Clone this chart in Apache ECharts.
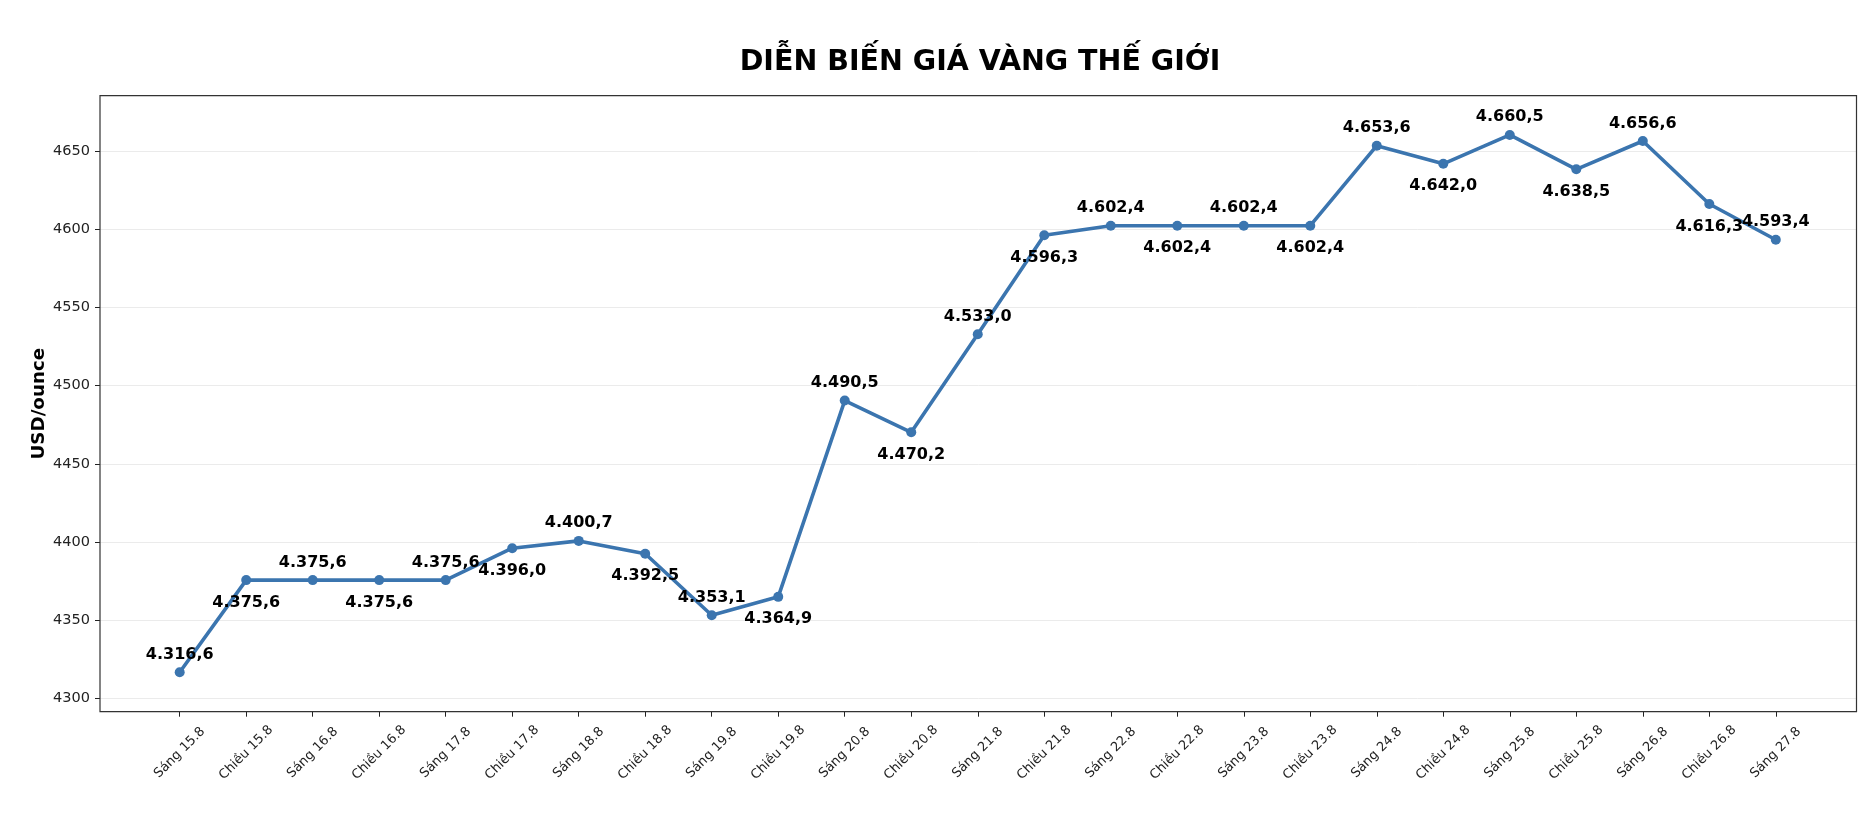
<!DOCTYPE html>
<html>
<head>
<meta charset="utf-8">
<script src="https://cdn.jsdelivr.net/npm/echarts@6/dist/echarts.min.js"></script>
<style>
    html, body { margin: 0; padding: 0; background: #fff; }
    #main { width: 1874px; height: 816px; }
</style>
</head>
<body>
<div id="main"></div>
<script>
// dữ liệu giá vàng (USD/ounce)
let categories = ['Sáng 15.8', 'Chiều 15.8', 'Sáng 16.8', 'Chiều 16.8', 'Sáng 17.8', 'Chiều 17.8',
    'Sáng 18.8', 'Chiều 18.8', 'Sáng 19.8', 'Chiều 19.8', 'Sáng 20.8', 'Chiều 20.8', 'Sáng 21.8',
    'Chiều 21.8', 'Sáng 22.8', 'Chiều 22.8', 'Sáng 23.8', 'Chiều 23.8', 'Sáng 24.8', 'Chiều 24.8',
    'Sáng 25.8', 'Chiều 25.8', 'Sáng 26.8', 'Chiều 26.8', 'Sáng 27.8']
let prices = [4316.6, 4375.6, 4375.6, 4375.6, 4375.6, 4396.0, 4400.7, 4392.5, 4353.1, 4364.9,
    4490.5, 4470.2, 4533.0, 4596.3, 4602.4, 4602.4, 4602.4, 4602.4, 4653.6, 4642.0,
    4660.5, 4638.5, 4656.6, 4616.3, 4593.4]
let yMin = 4291.4
let yMax = 4685.6

let myChart = echarts.init(document.getElementById('main'));

// định dạng kiểu Việt Nam: 4.316,6
function fmtVN(v) {
    let s = v.toFixed(1).split('.')
    let intPart = s[0].replace(/\B(?=(\d{3})+(?!\d))/g, '.')
    return intPart + ',' + s[1]
}

// nhãn chẵn ở trên, lẻ ở dưới
let seriesData = prices.map(function (v, i) {
    let up = i % 2 === 0
    return {
        value: v,
        label: { position: up ? 'top' : 'bottom', distance: up ? 4.6 : 9.4 }
    }
})

let font = 'DejaVu Sans'

let option = {
    animation: false,
    backgroundColor: '#fff',
    title: {
        text: 'DIỄN BIẾN GIÁ VÀNG THẾ GIỚI',
        left: 975,
        top: 43,
        textAlign: 'center',
        textStyle: {
            fontFamily: font,
            fontSize: 28.5,
            fontWeight: 'bold',
            color: '#000'
        }
    },
    grid: [
        // khung
        { left: 100, right: 17.5, top: 95.7, bottom: 104.3, show: true, z: 10, borderColor: '#333', borderWidth: 1.2, backgroundColor: 'transparent' },
        // vùng vẽ
        { left: 179.7, right: 98.2, top: 95.7, bottom: 104.3 }
    ],
    xAxis: [
        { gridIndex: 0, type: 'value', show: false, min: 0, max: 1 },
        {
            gridIndex: 1,
            type: 'category',
            data: categories,
            boundaryGap: false,
            axisLine: { show: false },
            axisTick: { show: true, length: 5, lineStyle: { color: '#222' } },
            axisLabel: {
                interval: 0,
                rotate: 45,
                margin: 41,
                align: 'center',
                verticalAlign: 'middle',
                fontFamily: font,
                fontSize: 13,
                color: '#222'
            },
            splitLine: { show: false }
        }
    ],
    yAxis: [
        {
            gridIndex: 0,
            type: 'value',
            min: yMin,
            max: yMax,
            minInterval: 50,
            maxInterval: 50,
            name: 'USD/ounce',
            nameLocation: 'middle',
            nameGap: 52,
            nameMoveOverlap: false,
            nameTextStyle: { fontFamily: font, fontSize: 18.3, fontWeight: 'bold', color: '#000' },
            axisLine: { show: false },
            axisTick: { show: true, length: 5, lineStyle: { color: '#222' } },
            axisLabel: {
                showMinLabel: false,
                showMaxLabel: false,
                margin: 10,
                fontFamily: font,
                fontSize: 14.5,
                color: '#222',
                formatter: function (v) { return String(v) }
            },
            splitLine: { show: true, showMinLine: false, showMaxLine: false, lineStyle: { color: '#ebebeb', width: 1 } }
        },
        { gridIndex: 1, type: 'value', min: yMin, max: yMax, show: false }
    ],
    series: [{
        type: 'line',
        xAxisIndex: 1,
        yAxisIndex: 1,
        data: seriesData,
        symbol: 'circle',
        symbolSize: 10,
        lineStyle: { color: '#3b75af', width: 3.6 },
        itemStyle: { color: '#3b75af' },
        label: {
            show: true,
            fontFamily: font,
            fontSize: 16,
            fontWeight: 'bold',
            color: '#000',
            formatter: function (p) { return fmtVN(p.value) }
        }
    }]
};

myChart.setOption(option);
</script>
</body>
</html>
